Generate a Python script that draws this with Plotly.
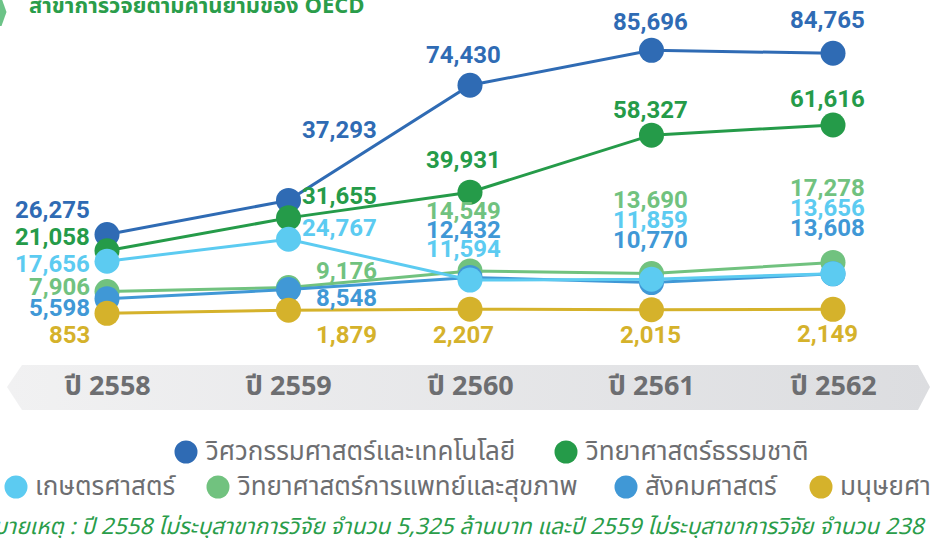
import plotly.graph_objects as go

# ---------------- data ----------------
years = ["ปี 2558", "ปี 2559", "ปี 2560", "ปี 2561", "ปี 2562"]
series_names = [
    "วิศวกรรมศาสตร์และเทคโนโลยี",
    "วิทยาศาสตร์ธรรมชาติ",
    "เกษตรศาสตร์",
    "วิทยาศาสตร์การแพทย์และสุขภาพ",
    "สังคมศาสตร์",
    "มนุษยศาสตร์",
]
engineering = [26275, 37293, 74430, 85696, 84765]
natural_sci = [21058, 31655, 39931, 58327, 61616]
agriculture = [17656, 24767, 11594, 11859, 13656]
medical = [7906, 9176, 14549, 13690, 17278]
social_sci = [5598, 8548, 12432, 10770, 13608]
humanities = [853, 1879, 2207, 2015, 2149]
title_text = "สาขาการวิจัยตามคำนิยามของ OECD"
note_text = ("หมายเหตุ : ปี 2558 ไม่ระบุสาขาการวิจัย จำนวน 5,325 ล้านบาท "
             "และปี 2559 ไม่ระบุสาขาการวิจัย จำนวน 238 ล้านบาท")

values = [engineering, natural_sci, agriculture, medical, social_sci, humanities]

# ---------------- styles ----------------
colors = ["#2f6bb4", "#259b49", "#5ccbf1", "#71c27f", "#4098d6", "#d5b22b"]
draw_order = [0, 1, 3, 4, 2, 5]
# label offsets (pixels, up is positive) relative to each point, per series per year
label_dy = [
    [25, 70, 30, 28, 33],
    [14, 22, 32, 25, 26],
    [-3, 11, 31, 59, 66],
    [4, 17, 60, 74, 74],
    [-9, -8, 47, 43, 46],
    [-22, -25, -26, -25, -25],
]
col_anchor = ["right", "right", "center", "center", "center"]
col_dx = [-15, 90, -7, -1, -6]

W, H = 930, 538
def PX(p):
    return p / W
def PY(p):
    return 1 - p / H

NUM_FONT = "Roboto, 'Open Sans', sans-serif"
TH_FONT = "'Noto Sans Thai', 'Noto Sans', 'DejaVu Sans', sans-serif"

fig = go.Figure()

for i in draw_order:
    fig.add_trace(go.Scatter(
        x=years, y=values[i], mode="lines+markers", name=series_names[i],
        line=dict(color=colors[i], width=3),
        marker=dict(color=colors[i], size=25),
        showlegend=False, hoverinfo="skip",
    ))

# band behind year labels (on overlay pixel axes)
band_x = [7, 22, 918, 930, 918, 22, 7]
band_y = [387, 365, 365, 387, 410, 410, 387]
fig.add_trace(go.Scatter(
    x=band_x, y=band_y, xaxis="x2", yaxis="y2", mode="lines",
    line=dict(width=0), fill="toself",
    fillgradient=dict(type="horizontal",
                      colorscale=[[0, "#f1f1f2"], [1, "#dcdde0"]]),
    showlegend=False, hoverinfo="skip",
))

annotations = []
# value labels
for s in range(6):
    for j in range(5):
        annotations.append(dict(
            x=years[j], y=values[s][j], xref="x", yref="y",
            text=f"{values[s][j]:,}", showarrow=False,
            xanchor=col_anchor[j], yanchor="middle",
            xshift=col_dx[j], yshift=label_dy[s][j],
            font=dict(family=NUM_FONT, size=24, color=colors[s], weight="bold"),
        ))

# year labels
for j, yl in enumerate(years):
    annotations.append(dict(
        x=yl, y=PY(386), xref="x", yref="paper", text=yl, showarrow=False,
        xanchor="center", yanchor="middle",
        font=dict(family=TH_FONT, size=27, color="#6d6e71", weight="bold"),
    ))

# manual legend
legend_pos = [(186, 452), (566, 452), (16, 487), (218, 487), (626, 487), (821, 487)]
shapes = []
for s, (cx, cy) in enumerate(legend_pos):
    r = 11.5
    shapes.append(dict(type="circle", xref="paper", yref="paper",
                       x0=PX(cx - r), x1=PX(cx + r), y0=PY(cy + r), y1=PY(cy - r),
                       fillcolor=colors[s], line=dict(width=0)))
    annotations.append(dict(
        x=PX(cx + 17), y=PY(cy), xref="paper", yref="paper",
        text=series_names[s], showarrow=False, xanchor="left", yanchor="middle",
        font=dict(family=TH_FONT, size=26, color="#6d6e71"),
    ))

# title (partially cut at top)
annotations.append(dict(
    x=PX(27), y=PY(6), xref="paper", yref="paper", text=title_text,
    showarrow=False, xanchor="left", yanchor="middle",
    font=dict(family=TH_FONT, size=22, color="#2a9d4a", weight="bold"),
))
# green chevron at top-left
shapes.append(dict(type="path", xref="paper", yref="paper",
                   path=f"M {PX(0)},{PY(-2)} L {PX(1.5)},{PY(-2)} L {PX(6.5)},{PY(12)} "
                        f"L {PX(1.5)},{PY(26)} L {PX(0)},{PY(26)} Z",
                   fillcolor="#6cc387", line=dict(width=0)))

# footnote
annotations.append(dict(
    x=PX(-22), y=PY(527), xref="paper", yref="paper", text=note_text,
    showarrow=False, xanchor="left", yanchor="middle",
    font=dict(family=TH_FONT, size=22.5, color="#2a9d4a", style="italic"),
))

fig.update_layout(
    width=W, height=H, margin=dict(l=0, r=0, t=0, b=0),
    paper_bgcolor="white", plot_bgcolor="white",
    xaxis=dict(type="category", range=[-0.5895, 4.5344], visible=False, fixedrange=True),
    yaxis=dict(range=[(316 - 538) / 0.0031, 316 / 0.0031], visible=False, fixedrange=True),
    xaxis2=dict(range=[0, W], overlaying="x", visible=False, fixedrange=True),
    yaxis2=dict(range=[H, 0], overlaying="y", visible=False, fixedrange=True),
    annotations=annotations, shapes=shapes, showlegend=False,
)

fig.write_html(
    "out.html",
    config={"displayModeBar": False},
    post_script="document.body.style.margin='0';document.body.style.overflow='hidden';",
)
